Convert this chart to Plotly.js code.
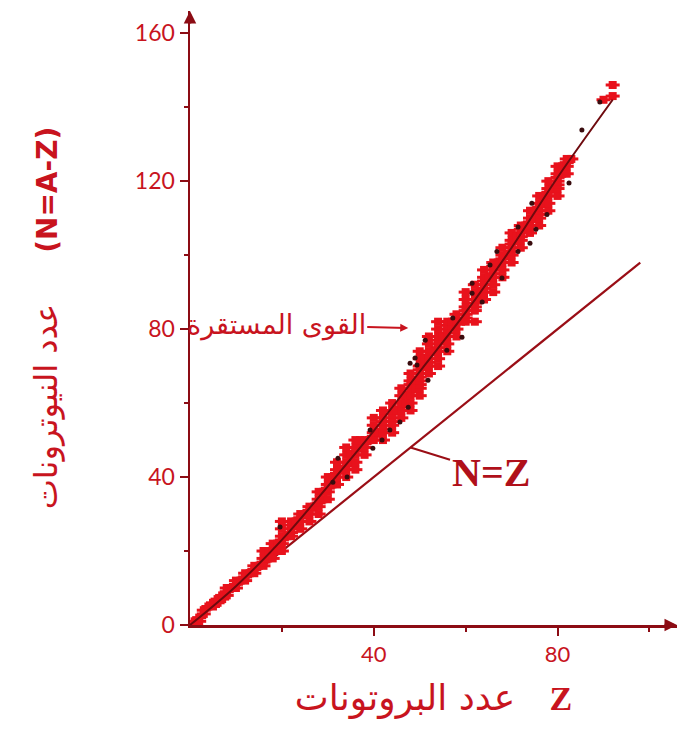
<!DOCTYPE html>
<html>
<head>
<meta charset="utf-8">
<script src="https://cdn.plot.ly/plotly-3.0.1.min.js"></script>
<style>html,body{margin:0;padding:0;background:#fff;}</style>
</head>
<body>
<div id="chart" style="width:686px;height:729px;"></div>
<script>
// Stable nuclei (proton number Z, neutron number N)
const stableZ = [1,1,2,2,3,3,4,5,5,6,6,7,7,8,8,8,9,10,10,10,11,12,12,12,13,14,14,14,15,16,16,16,16,17,17,18,18,18,19,19,19,20,20,20,20,20,20,21,22,22,22,22,22,23,23,24,24,24,24,25,26,26,26,26,27,28,28,28,28,28,29,29,30,30,30,30,30,31,31,32,32,32,32,32,33,34,34,34,34,34,34,35,35,36,36,36,36,36,36,37,37,38,38,38,38,39,40,40,40,40,40,41,42,42,42,42,42,42,42,44,44,44,44,44,44,44,45,46,46,46,46,46,46,47,47,48,48,48,48,48,48,48,48,49,49,50,50,50,50,50,50,50,50,50,50,51,51,52,52,52,52,52,52,52,52,53,54,54,54,54,54,54,54,54,54,55,56,56,56,56,56,56,56,57,57,58,58,58,58,59,60,60,60,60,60,60,60,62,62,62,62,62,62,62,63,63,64,64,64,64,64,64,64,65,66,66,66,66,66,66,66,67,68,68,68,68,68,68,69,70,70,70,70,70,70,70,71,71,72,72,72,72,72,72,73,73,74,74,74,74,74,75,75,76,76,76,76,76,76,76,77,77,78,78,78,78,78,78,79,80,80,80,80,80,80,80,81,81,82,82,82,82,83,90,92,92];
const stableN = [0,1,1,2,3,4,5,5,6,6,7,7,8,8,9,10,10,10,11,12,12,12,13,14,14,14,15,16,16,16,17,18,20,18,20,18,20,22,20,21,22,20,22,23,24,26,28,24,24,25,26,27,28,27,28,26,28,29,30,30,28,30,31,32,32,30,32,33,34,36,34,36,34,36,37,38,40,38,40,38,40,41,42,44,42,40,42,43,44,46,48,44,46,42,44,46,47,48,50,48,50,46,48,49,50,50,50,51,52,54,56,52,50,52,53,54,55,56,58,52,54,55,56,57,58,60,58,56,58,59,60,62,64,60,62,58,60,62,63,64,65,66,68,64,66,62,64,65,66,67,68,69,70,72,74,70,72,68,70,71,72,73,74,76,78,74,70,72,74,75,76,77,78,80,82,78,74,76,78,79,80,81,82,81,82,78,80,82,84,82,82,83,84,85,86,88,90,82,85,86,87,88,90,92,88,90,88,90,91,92,93,94,96,94,90,92,94,95,96,97,98,98,94,96,98,99,100,102,100,98,100,101,102,103,104,106,104,105,102,104,105,106,107,108,107,108,106,108,109,110,112,110,112,108,110,111,112,113,114,116,114,116,112,114,116,117,118,120,118,116,118,119,120,121,122,124,122,124,122,124,125,126,126,142,143,146];

// Scattered dark dots around the band
const dotZ = [19.6,31.1,32.2,34.2,39.2,39.8,41.8,43.5,45.7,47.5,49.4,51.8,47.9,49.0,51.2,55.9,59.2,57.2,61.4,63.6,61.4,65.3,67.9,66.8,71.4,74.0,71.4,75.3,77.7,74.4,82.5,85.3,89.2];
const dotN = [26.5,38.6,45.1,40.0,52.7,47.8,50.0,52.7,54.9,58.9,70.3,66.2,70.8,72.2,77.0,74.3,77.8,83.0,89.7,87.3,92.4,97.3,93.8,101.0,101.0,103.2,107.6,107.0,111.0,114.0,119.5,133.8,141.4];

// Line of stability drawn through the band
const curveZ = [0,10,20,30,40,50,60,70,80,92];
const curveN = [0,10.5,23,37.5,52.5,68.5,84.5,102,121,142];

// N = Z reference line
const eqZ = [0,98];
const eqN = [0,98];

// Axis ticks
const xTickVals = [40,80];
const xTickText = ['40','80'];
const yTickVals = [0,40,80,120,160];
const yTickText = ['0','40','80','120','160'];

const AXIS = '#8c0c14';
const TEXT = '#c8141e';
const BAND = '#e8121c';

const traces = [
  {x: eqZ, y: eqN, mode: 'lines', line: {color: '#9a0e16', width: 2.2}, hoverinfo: 'skip', showlegend: false},
  {x: stableZ, y: stableN, mode: 'markers',
   marker: {color: BAND, size: 10, symbol: 'line-ew', line: {color: BAND, width: 3}}, showlegend: false},
  {x: stableZ, y: stableN, mode: 'markers',
   marker: {color: BAND, size: 8, symbol: 'square'}, showlegend: false},
  {x: curveZ, y: curveN, mode: 'lines', line: {color: '#6e0a0e', width: 2, shape: 'spline'}, showlegend: false},
  {x: dotZ, y: dotN, mode: 'markers', marker: {color: '#3a0c0e', size: 5}, showlegend: false}
];

const layout = {
  width: 686, height: 729,
  margin: {l: 190, r: 9, t: 11, b: 104},
  paper_bgcolor: '#ffffff', plot_bgcolor: '#ffffff',
  showlegend: false,
  font: {family: 'DejaVu Sans', color: TEXT},
  xaxis: {
    range: [0, 106], showgrid: false, zeroline: false,
    showline: true, linecolor: AXIS, linewidth: 2.5,
    ticks: 'outside', ticklen: 8, tickwidth: 2, tickcolor: AXIS,
    tickvals: xTickVals, ticktext: xTickText,
    tickfont: {family: 'Lato', size: 22, color: TEXT},
    minor: {tickvals: [20,60,100], ticks: 'outside', ticklen: 4, tickwidth: 2, tickcolor: AXIS},
    title: {text: 'عدد البروتونات   <span style="font-family:Liberation Serif;font-size:34px"><b>Z</b></span>',
            font: {family: 'DejaVu Sans', size: 36, color: TEXT}, standoff: 19},
    automargin: false
  },
  yaxis: {
    range: [0, 166], showgrid: false, zeroline: false,
    showline: true, linecolor: AXIS, linewidth: 2.5,
    ticks: 'outside', ticklen: 8, tickwidth: 2, tickcolor: AXIS,
    tickvals: yTickVals, ticktext: yTickText,
    tickfont: {family: 'Lato', size: 23, color: TEXT},
    minor: {tickvals: [20,60,100,140], ticks: 'outside', ticklen: 4, tickwidth: 2, tickcolor: AXIS},
    title: {text: 'عدد النيوترونات     <span style="font-size:28px"><b>(N=A-Z)</b></span>',
            font: {family: 'DejaVu Sans', size: 32, color: TEXT}, standoff: 68},
    automargin: false
  },
  annotations: [
    {x: 47.5, y: 80.3, xref: 'x', yref: 'y', text: 'القوى المستقرة',
     showarrow: true, ax: -132, ay: -3, arrowhead: 2, arrowsize: 0.8, arrowwidth: 2, arrowcolor: TEXT,
     font: {family: 'DejaVu Sans', size: 27, color: TEXT}},
    {x: 48, y: 48, xref: 'x', yref: 'y', text: '<b>N=Z</b>',
     showarrow: true, ax: 80, ay: 25, arrowhead: 0, arrowwidth: 2, arrowcolor: '#9a0e16',
     font: {family: 'Liberation Serif', size: 40, color: '#b0101a'}},
    {x: 0, y: 1, xref: 'paper', yref: 'paper', ax: 0, ay: 14, text: '', showarrow: true,
     arrowhead: 2, arrowsize: 1, arrowwidth: 2.5, arrowcolor: AXIS},
    {x: 1, y: 0, xref: 'paper', yref: 'paper', ax: -14, ay: 0, text: '', showarrow: true,
     arrowhead: 2, arrowsize: 1, arrowwidth: 2.5, arrowcolor: AXIS}
  ]
};

Plotly.newPlot('chart', traces, layout, {displayModeBar: false, staticPlot: true});
</script>
</body>
</html>
